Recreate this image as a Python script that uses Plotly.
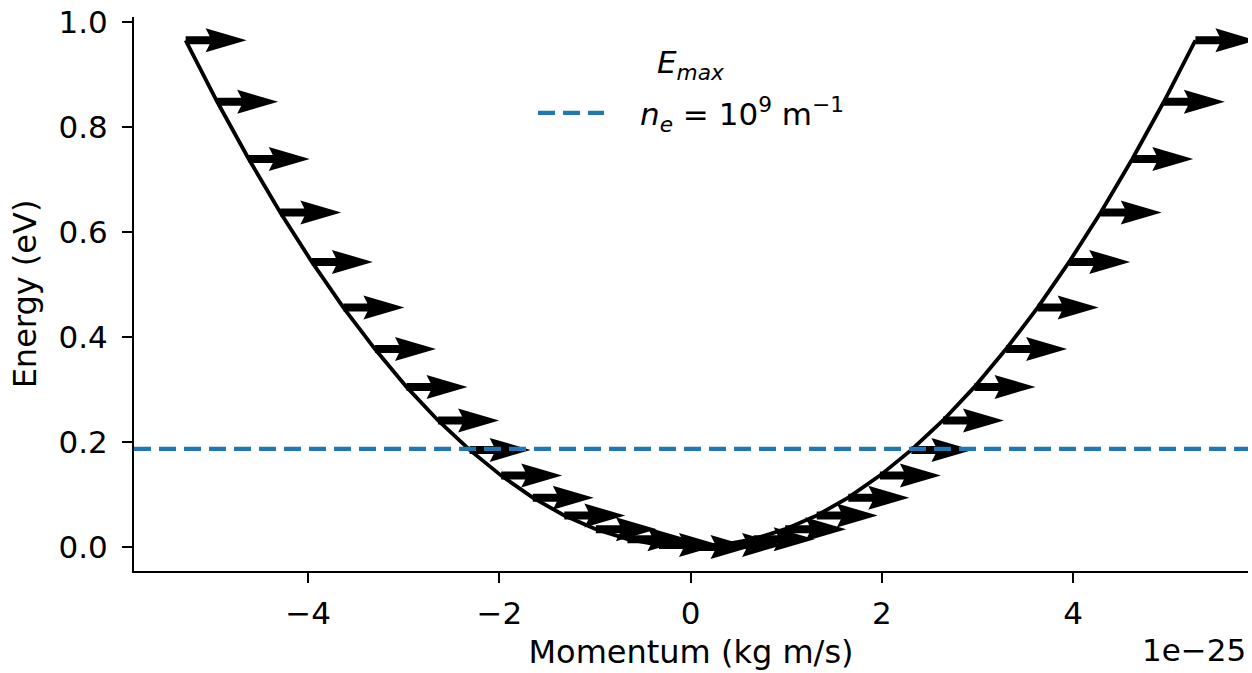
import plotly.graph_objects as go

# Momentum in units of 1e-25 kg m/s, energy in eV
momentum = [-5.28, -4.95, -4.62, -4.29, -3.96, -3.63, -3.30, -2.97, -2.64, -2.31,
            -1.98, -1.65, -1.32, -0.99, -0.66, -0.33, 0.0, 0.33, 0.66, 0.99,
            1.32, 1.65, 1.98, 2.31, 2.64, 2.97, 3.30, 3.63, 3.96, 4.29,
            4.62, 4.95, 5.28]
energy = [0.965, 0.848, 0.739, 0.637, 0.543, 0.456, 0.377, 0.305, 0.241, 0.185,
          0.136, 0.094, 0.060, 0.034, 0.015, 0.004, 0.0, 0.004, 0.015, 0.034,
          0.060, 0.094, 0.136, 0.185, 0.241, 0.305, 0.377, 0.456, 0.543, 0.637,
          0.739, 0.848, 0.965]
e_max = 0.187
x_ticks = [-4, -2, 0, 2, 4]
y_ticks = [0.0, 0.2, 0.4, 0.6, 0.8, 1.0]

FONT = "DejaVu Sans"
BLUE = "#1f77b4"
TICK_SIZE = 31
LABEL_SIZE = 32

fig = go.Figure()

# dispersion curve
fig.add_trace(go.Scatter(x=momentum, y=energy, mode="lines",
                         line=dict(color="black", width=3.8),
                         showlegend=False, hoverinfo="skip"))

# E_max line spanning the axes
fig.add_trace(go.Scatter(x=[-5.82, 5.83], y=[e_max, e_max], mode="lines",
                         line=dict(color=BLUE, width=4.2, dash="17px,8px"),
                         name="\u2003<i>n</i><sub><i>e</i></sub> = 10<sup>9</sup> m<sup>\u22121</sup>",
                         showlegend=True, hoverinfo="skip"))

# quiver-style arrows (pixel-sized, anchored at each curve point)
arrow_path = "M 0 -4 L 24 -4 L 20 -12 L 61 0 L 20 12 L 24 4 L 0 4 Z"
for p, e in zip(momentum, energy):
    fig.add_shape(type="path", xref="x", yref="y",
                  xsizemode="pixel", ysizemode="pixel",
                  xanchor=p, yanchor=e, path=arrow_path,
                  fillcolor="black", line=dict(width=0), layer="below")

# legend title
fig.add_annotation(text="<i>E</i><sub><i>max</i></sub>", xref="paper", yref="paper",
                   x=0.5, y=0.915, xanchor="center", yanchor="middle",
                   showarrow=False, font=dict(family=FONT, size=TICK_SIZE, color="black"))

# offset text of the x axis
fig.add_annotation(text="1e\u221225", xref="paper", yref="paper",
                   x=1, y=-0.143, xanchor="right", yanchor="middle",
                   showarrow=False, font=dict(family=FONT, size=TICK_SIZE, color="black"))

fig.update_layout(
    width=1252, height=673,
    margin=dict(l=134, r=4, t=17, b=102),
    paper_bgcolor="white", plot_bgcolor="white",
    font=dict(family=FONT, size=TICK_SIZE, color="black"),
    legend=dict(x=0.5, xanchor="center", y=0.875, yanchor="top",
                bgcolor="rgba(0,0,0,0)", itemwidth=66,
                font=dict(family=FONT, size=TICK_SIZE)),
)

fig.update_xaxes(range=[-5.82, 5.83], tickvals=x_ticks, showgrid=False, zeroline=False,
                 showline=True, linecolor="black", linewidth=2,
                 ticks="outside", ticklen=10, tickwidth=2, tickcolor="black",
                 ticklabelstandoff=4,
                 tickfont=dict(family=FONT, size=TICK_SIZE),
                 title=dict(text="Momentum (kg m/s)", standoff=10,
                            font=dict(family=FONT, size=LABEL_SIZE)))
fig.update_yaxes(range=[-0.0457, 1.0095], tickvals=y_ticks, tickformat=".1f",
                 showgrid=False, zeroline=False,
                 showline=True, linecolor="black", linewidth=2,
                 ticks="outside", ticklen=10, tickwidth=2, tickcolor="black",
                 ticklabelstandoff=8,
                 tickfont=dict(family=FONT, size=TICK_SIZE),
                 title=dict(text="Energy (eV)", standoff=12,
                            font=dict(family=FONT, size=LABEL_SIZE)))

fig.write_html("out.html")
